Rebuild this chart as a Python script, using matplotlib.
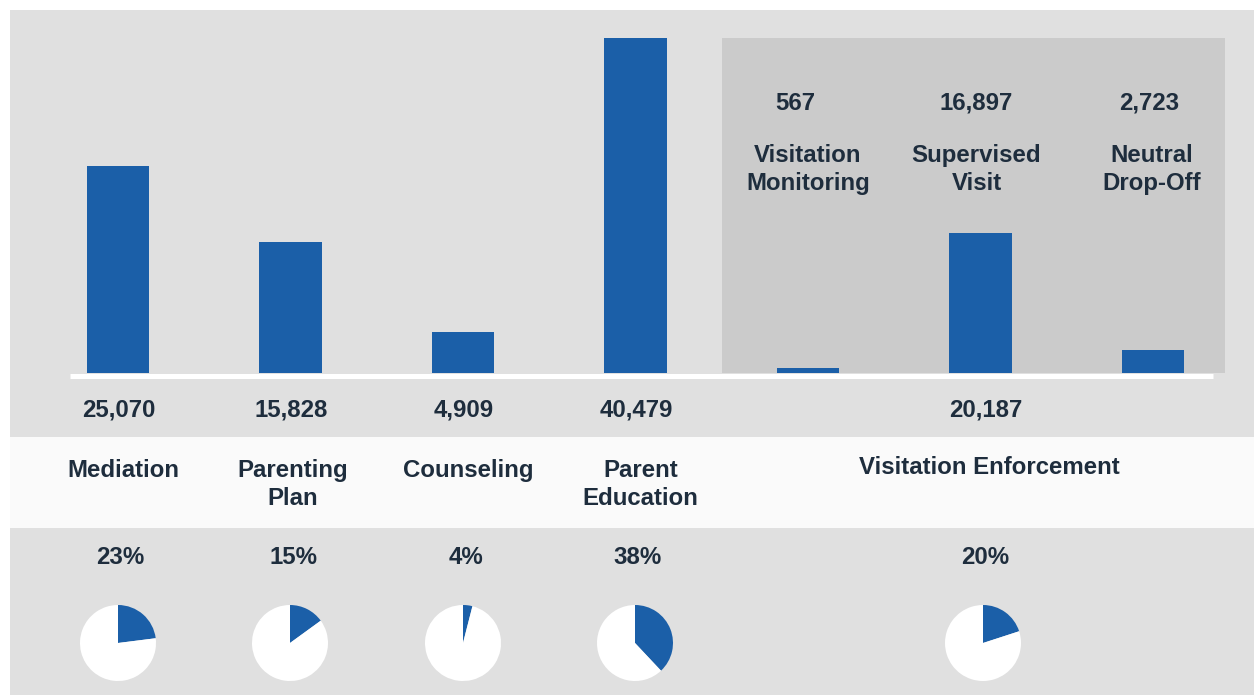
import matplotlib
matplotlib.use("Agg")
import matplotlib.pyplot as plt
from matplotlib.patches import Rectangle
from matplotlib.transforms import blended_transform_factory

plt.rcParams['font.family'] = ['Liberation Sans', 'DejaVu Sans']
plt.rcParams['font.weight'] = 'bold'

# data
services = ["Mediation", "Parenting\nPlan", "Counseling", "Parent\nEducation",
            "Visitation\nMonitoring", "Supervised\nVisit", "Neutral\nDrop-Off"]
counts = [25070, 15828, 4909, 40479, 567, 16897, 2723]
groups = ["Mediation", "Parenting\nPlan", "Counseling", "Parent\nEducation",
          "Visitation Enforcement"]
group_totals = [25070, 15828, 4909, 40479, 20187]
group_share = [23, 15, 4, 38, 20]

BLUE = "#1b5fa8"
TXT = "#1e2d3d"
BG = "#e0e0e0"
W, H = 1254, 695
STEP = 172.5  # pixels between bar centres

fig = plt.figure(figsize=(W / 100, H / 100), dpi=100)
fig.patch.set_facecolor("white")

# background layer in pixel coords
bg = fig.add_axes([0, 0, 1, 1])
bg.set_xlim(0, W)
bg.set_ylim(H, 0)
bg.axis("off")
bg.add_patch(Rectangle((10, 10), W - 10, H - 10, color=BG, lw=0))
bg.add_patch(Rectangle((722, 38), 503, 335, color="#cbcbcb", lw=0))
bg.add_patch(Rectangle((10, 437), W - 10, 91, color="#fafafa", lw=0))

# bars
x = list(range(len(counts)))
ax = fig.add_axes([70 / W, (H - 373) / H, (1213 - 70) / W, (373 - 38) / H])
ax.patch.set_alpha(0)
ax.bar(x, counts, width=0.36, color=BLUE, zorder=2)
ax.set_xlim(-48 / STEP, (1213 - 118) / STEP)
ax.set_ylim(0, max(counts))
ax.axis("off")
bg.plot([70, 1213], [376, 376], color="white", lw=3.6, solid_capstyle="butt",
        zorder=5)

tr = blended_transform_factory(ax.transData, bg.transData)
fs = 17.3
d = 1 / STEP

# values/labels inside the visitation box
box_val_dx = [-13, -4, -4]
box_lab_dx = [0, -4, -1]
for k, i in enumerate(range(4, 7)):
    ax.text(i + box_val_dx[k] * d, 103, f"{counts[i]:,}", transform=tr,
            ha="center", va="center", fontsize=fs, color=TXT)
    ax.text(i + box_lab_dx[k] * d, 144, services[i], transform=tr,
            ha="center", va="top", fontsize=fs, color=TXT, linespacing=1.28)

# group positions (visitation enforcement centred on the supervised bar)
gx = [0, 1, 2, 3, 5]
val_dx = [1, 1, 1, 1, 5]
lab_dx = [5, 2, 5, 5, 9]
pct_dx = [2, 3, 3, 2, 5]
for g, xi in enumerate(gx):
    ax.text(xi + val_dx[g] * d, 410, f"{group_totals[g]:,}", transform=tr,
            ha="center", va="center", fontsize=fs, color=TXT)
    ax.text(xi + lab_dx[g] * d, 459 if g < 4 else 456, groups[g], transform=tr,
            ha="center", va="top", fontsize=fs, color=TXT, linespacing=1.28)
    ax.text(xi + pct_dx[g] * d, 557, f"{group_share[g]}%", transform=tr,
            ha="center", va="center", fontsize=fs, color=TXT)

# pies
centers = [118, 290, 463, 635, 983]
r = 38
for g, cx in enumerate(centers):
    pa = fig.add_axes([(cx - r) / W, (H - 643 - r) / H, 2 * r / W, 2 * r / H])
    pa.pie([group_share[g], 100 - group_share[g]], colors=[BLUE, "white"],
           startangle=90, counterclock=False, radius=1,
           wedgeprops=dict(linewidth=0))
    pa.set_xlim(-1, 1)
    pa.set_ylim(-1, 1)
    pa.axis("off")

fig.savefig("out.png", dpi=100, facecolor=fig.get_facecolor())
